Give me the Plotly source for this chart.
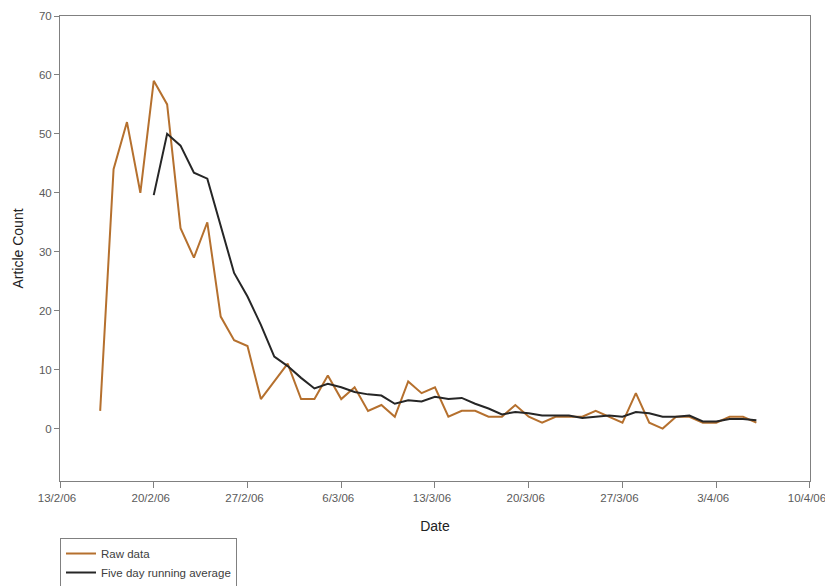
import plotly.graph_objects as go

raw_dates = [
    "2006-02-16", "2006-02-17", "2006-02-18", "2006-02-19", "2006-02-20", "2006-02-21",
    "2006-02-22", "2006-02-23", "2006-02-24", "2006-02-25", "2006-02-26", "2006-02-27",
    "2006-02-28", "2006-03-01", "2006-03-02", "2006-03-03", "2006-03-04", "2006-03-05",
    "2006-03-06", "2006-03-07", "2006-03-08", "2006-03-09", "2006-03-10", "2006-03-11",
    "2006-03-12", "2006-03-13", "2006-03-14", "2006-03-15", "2006-03-16", "2006-03-17",
    "2006-03-18", "2006-03-19", "2006-03-20", "2006-03-21", "2006-03-22", "2006-03-23",
    "2006-03-24", "2006-03-25", "2006-03-26", "2006-03-27", "2006-03-28", "2006-03-29",
    "2006-03-30", "2006-03-31", "2006-04-01", "2006-04-02", "2006-04-03", "2006-04-04",
    "2006-04-05", "2006-04-06",
]
raw_counts = [
    3, 44, 52, 40, 59, 55,
    34, 29, 35, 19, 15, 14,
    5, 8, 11, 5, 5, 9,
    5, 7, 3, 4, 2, 8,
    6, 7, 2, 3, 3, 2,
    2, 4, 2, 1, 2, 2,
    2, 3, 2, 1, 6, 1,
    0, 2, 2, 1, 1, 2,
    2, 1,
]

avg_dates = raw_dates[4:]
avg_counts = [
    39.6, 50.0, 48.0, 43.4, 42.4, 34.4, 26.4, 22.4, 17.6, 12.2,
    10.6, 8.6, 6.8, 7.6, 7.0, 6.2, 5.8, 5.6, 4.2, 4.8,
    4.6, 5.4, 5.0, 5.2, 4.2, 3.4, 2.4, 2.8, 2.6, 2.2,
    2.2, 2.2, 1.8, 2.0, 2.2, 2.0, 2.8, 2.6, 2.0, 2.0,
    2.2, 1.2, 1.2, 1.6, 1.6, 1.4,
]

x_tick_vals = ["2006-02-13", "2006-02-20", "2006-02-27", "2006-03-06", "2006-03-13",
               "2006-03-20", "2006-03-27", "2006-04-03", "2006-04-10"]
x_tick_text = ["13/2/06", "20/2/06", "27/2/06", "6/3/06", "13/3/06",
               "20/3/06", "27/3/06", "3/4/06", "10/4/06"]
y_tick_vals = [0, 10, 20, 30, 40, 50, 60, 70]

fig = go.Figure()
fig.add_trace(go.Scatter(
    x=raw_dates, y=raw_counts, mode="lines", name="Raw data",
    line=dict(color="#B5702E", width=2),
))
fig.add_trace(go.Scatter(
    x=avg_dates, y=avg_counts, mode="lines", name="Five day running average",
    line=dict(color="#262626", width=2),
))

axis_font = dict(family="Liberation Sans, Arial, sans-serif", size=11.5, color="#5A5A5A")
title_font = dict(family="Liberation Sans, Arial, sans-serif", size=14, color="#222222")

fig.update_layout(
    width=825, height=586,
    margin=dict(l=60, r=15, t=16, b=105, autoexpand=False),
    paper_bgcolor="white", plot_bgcolor="white",
    font=dict(family="Liberation Sans, Arial, sans-serif", size=11, color="#333333"),
    xaxis=dict(
        range=["2006-02-13", "2006-04-10 00:05"],
        tickvals=x_tick_vals, ticktext=x_tick_text,
        ticks="outside", ticklen=6, tickcolor="#808080", tickwidth=1,
        showline=True, linecolor="#808080", linewidth=1, mirror=True,
        showgrid=False, zeroline=False, automargin=False,
        ticklabeloverflow="allow", ticklabelshift=-3,
        tickfont=axis_font,
        title=dict(text="Date", font=title_font, standoff=18),
    ),
    yaxis=dict(
        range=[-8.9, 70],
        tickvals=y_tick_vals,
        ticks="outside", ticklen=5, tickcolor="#808080", tickwidth=1,
        showline=True, linecolor="#808080", linewidth=1, mirror=True,
        showgrid=False, zeroline=False, automargin=False,
        ticklabeloverflow="allow",
        tickfont=axis_font,
        title=dict(text="Article Count", font=title_font, standoff=12),
    ),
    legend=dict(
        x=0, y=-0.1226, xanchor="left", yanchor="top",
        bordercolor="#808080", borderwidth=1, bgcolor="white",
        font=dict(size=11.5, color="#404040"),
        tracegroupgap=0, itemwidth=30,
    ),
    showlegend=True,
)

fig.write_html(
    "out.html",
    config={"displayModeBar": False},
    post_script="document.body.style.margin='0';document.documentElement.style.overflow='hidden';",
)
